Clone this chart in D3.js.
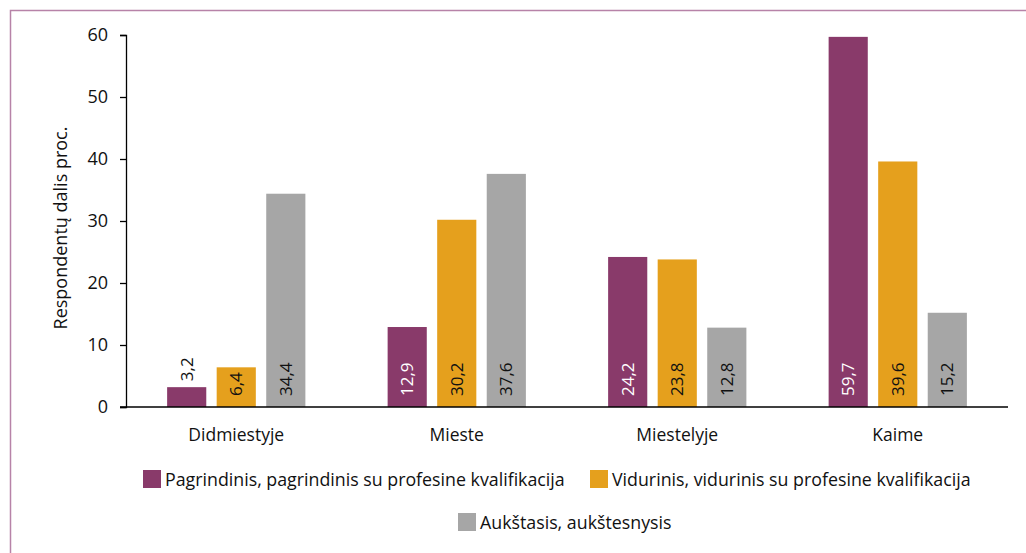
<!DOCTYPE html>
<html>
<head>
<meta charset="utf-8">
<script src="https://cdn.jsdelivr.net/npm/d3@7"></script>
<style>
  body { margin: 0; background: #fff; }
  svg text { font-family: "Open Sans", sans-serif; fill: #111; }
</style>
</head>
<body>
<div id="chart"></div>
<script>
let categories = ["Didmiestyje", "Mieste", "Miestelyje", "Kaime"]
let seriesNames = [
  "Pagrindinis, pagrindinis su profesine kvalifikacija",
  "Vidurinis, vidurinis su profesine kvalifikacija",
  "Aukštasis, aukštesnysis"
]
let pagrindinis = [3.2, 12.9, 24.2, 59.7]
let vidurinis = [6.4, 30.2, 23.8, 39.6]
let aukstasis = [34.4, 37.6, 12.8, 15.2]
let yTicks = [0, 10, 20, 30, 40, 50, 60]

let colors = ["#893a6a", "#e5a01d", "#a6a6a6"]
let labelColors = ["#fff", "#111", "#111"]

let width = 1026, height = 553
let svg = d3.select("#chart").append("svg")
    .attr("width", width)
    .attr("height", height)

// frame
svg.append("rect")
    .attr("x", 10.5).attr("y", 10.5)
    .attr("width", 1030).attr("height", 560)
    .attr("fill", "none")
    .attr("stroke", "#b783a8")
    .attr("stroke-width", 1.5)

let values = [pagrindinis, vidurinis, aukstasis]
let rows = []
categories.forEach((c, i) => {
  values.forEach((v, s) => rows.push({cat: c, s: s, v: v[i]}))
})

let x0 = d3.scaleBand()
    .domain(categories)
    .range([126, 1008])

let x1 = d3.scaleBand()
    .domain([0, 1, 2])
    .range([0, x0.bandwidth()])
    .paddingInner(0.21)
    .paddingOuter(0.83)

let y = d3.scaleLinear()
    .domain([0, 60])
    .range([407, 35])

// y axis
let yAxis = svg.append("g")
    .attr("transform", "translate(126,0)")
    .call(d3.axisLeft(y).tickValues(yTicks).tickSize(6).tickPadding(12))
yAxis.select(".domain").attr("stroke", "#000").attr("stroke-width", 1.3)
yAxis.selectAll(".tick line").attr("stroke", "#000").attr("stroke-width", 1.3)
yAxis.selectAll(".tick text").style("font-size", "18px").attr("fill", "#111")

// bars
svg.append("g")
  .selectAll("rect")
  .data(rows)
  .enter().append("rect")
    .attr("x", d => x0(d.cat) + x1(d.s))
    .attr("y", d => y(d.v))
    .attr("width", x1.bandwidth())
    .attr("height", d => y(0) - y(d.v))
    .attr("fill", d => colors[d.s])

// x axis line
svg.append("line")
    .attr("x1", 120).attr("x2", 1008)
    .attr("y1", y(0)).attr("y2", y(0))
    .attr("stroke", "#000").attr("stroke-width", 1.3)

// value labels: inside the bar at the bottom, above it when the bar is too short
let labelG = svg.append("g")
rows.forEach(d => {
  let cx = x0(d.cat) + x1(d.s) + x1.bandwidth() / 2
  let barH = y(0) - y(d.v)
  let inside = barH > 25
  let yy = inside ? y(0) - 11 : y(d.v) - 6
  labelG.append("text")
    .attr("x", 0).attr("y", 0)
    .attr("transform", "translate(" + cx + "," + yy + ") rotate(-90)")
    .attr("dy", "0.35em")
    .attr("text-anchor", "start")
    .style("font-size", "17px")
    .style("fill", inside ? labelColors[d.s] : "#111")
    .text(String(d.v).replace(".", ","))
})

// category labels
svg.append("g")
  .selectAll("text")
  .data(categories)
  .enter().append("text")
    .attr("x", d => x0(d) + x0.bandwidth() / 2)
    .attr("y", 441)
    .attr("text-anchor", "middle")
    .style("font-size", "17.5px")
    .text(d => d)

// y title
svg.append("text")
    .attr("transform", "translate(60,228) rotate(-90)")
    .attr("text-anchor", "middle")
    .attr("dominant-baseline", "central")
    .style("font-size", "18px")
    .text("Respondentų dalis proc.")

// legend
let legendPos = [
  {x: 143, y: 479},
  {x: 590, y: 479},
  {x: 458, y: 522}
]
let legend = svg.append("g")
  .selectAll("g")
  .data(seriesNames)
  .enter().append("g")
    .attr("transform", (d, i) => `translate(${legendPos[i].x},${legendPos[i].y})`)
legend.append("rect")
    .attr("x", 0).attr("y", -9)
    .attr("width", 18).attr("height", 18)
    .attr("fill", (d, i) => colors[i])
legend.append("text")
    .attr("x", 22)
    .attr("dominant-baseline", "central")
    .style("font-size", "17.8px")
    .text(d => d)
</script>
</body>
</html>
